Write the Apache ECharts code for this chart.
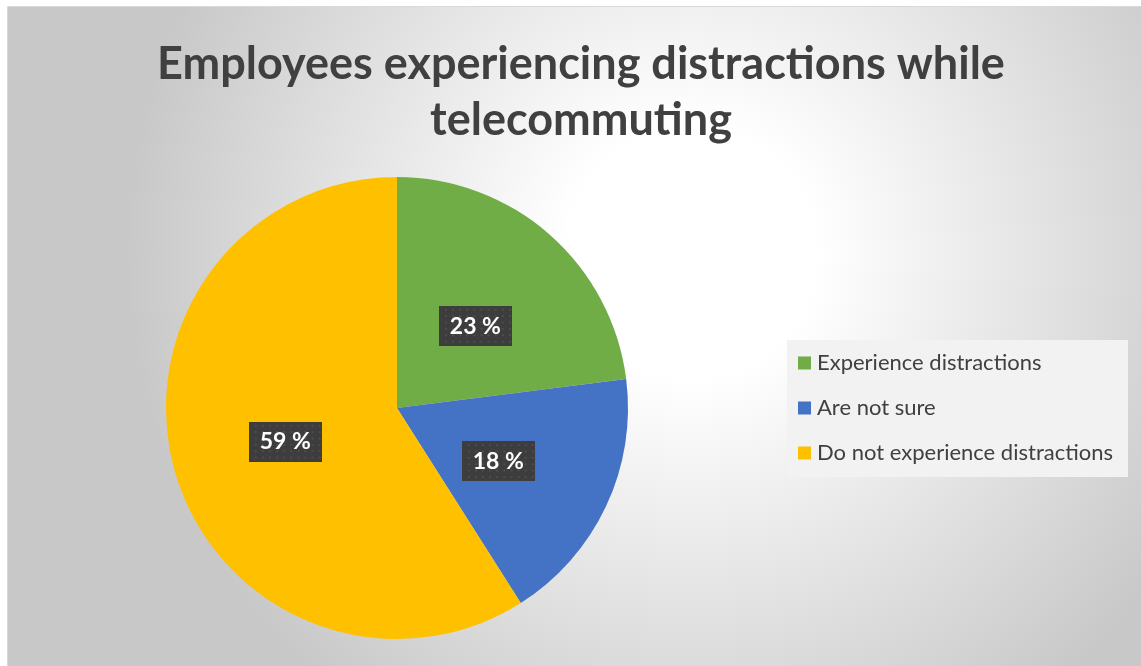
<!DOCTYPE html>
<html>
<head>
<meta charset="utf-8">
<style>
  html, body { margin: 0; padding: 0; background: #ffffff; }
  #chart { width: 1141px; height: 666px; }
</style>
<script src="https://cdn.jsdelivr.net/npm/echarts@6/dist/echarts.min.js"></script>
</head>
<body>
<div id="chart"></div>
<script>
// Survey answers and their shares (%)
const categories = ['Experience distractions', 'Are not sure', 'Do not experience distractions'];
const shares = [23, 18, 59];
const sliceColors = ['#70ad47', '#4472c4', '#ffc000'];
const titleText = 'Employees experiencing distractions while\ntelecommuting';

// Small nudges of the value labels inside their slices
const labelNudges = [[0, 7], [-6, 3], [2, 1]];

// Dark dotted tile used behind the value labels
function dottedTile(w, h) {
  const c = document.createElement('canvas');
  c.width = w; c.height = h;
  const g = c.getContext('2d');
  g.fillStyle = '#3d3d3d';
  g.fillRect(0, 0, w, h);
  g.fillStyle = '#4d4d4d';
  for (let y = 3; y < h; y += 7) {
    for (let x = 3 + ((y / 7) % 2 ? 3 : 0); x < w; x += 7) {
      g.fillRect(x, y, 2, 2);
    }
  }
  return c;
}
const tile = dottedTile(72, 44);

const chart = echarts.init(document.getElementById('chart'), null, { renderer: 'canvas' });

chart.setOption({
  animation: false,
  backgroundColor: '#ffffff',
  graphic: [
    {
      type: 'rect',
      z: -10,
      shape: { x: 7.5, y: 6.5, width: 1140, height: 666 },
      style: {
        stroke: '#d9d9d9',
        lineWidth: 1,
        fill: new echarts.graphic.RadialGradient(0.6, 0.37, 0.85, [
          { offset: 0, color: '#ffffff' },
          { offset: 0.22, color: '#ffffff' },
          { offset: 1, color: '#c8c8c8' }
        ])
      },
      silent: true
    },
    {
      type: 'rect',
      z: -5,
      shape: { x: 787, y: 340, width: 341, height: 137 },
      style: { fill: '#f2f2f2' },
      silent: true
    }
  ],
  title: {
    text: titleText,
    left: 576,
    textAlign: 'center',
    top: 31,
    textStyle: {
      fontFamily: 'Lato',
      fontWeight: 'bold',
      fontSize: 45,
      lineHeight: 56,
      color: '#404040'
    }
  },
  legend: {
    orient: 'vertical',
    left: 798,
    top: 352,
    itemWidth: 13,
    itemHeight: 13,
    itemGap: 23,
    icon: 'rect',
    padding: 0,
    data: categories,
    textStyle: {
      fontFamily: 'Lato',
      fontSize: 22,
      lineHeight: 22,
      color: '#404040',
      padding: [0, 0, 0, 1]
    }
  },
  series: [
    {
      type: 'pie',
      center: [397, 408],
      radius: 231,
      startAngle: 90,
      clockwise: true,
      silent: true,
      itemStyle: { borderWidth: 0 },
      label: {
        show: true,
        position: 'inside',
        formatter: '{c} %',
        fontFamily: 'Lato',
        fontWeight: 'bold',
        fontSize: 23,
        lineHeight: 24,
        color: '#ffffff',
        backgroundColor: { image: tile },
        padding: [8, 11, 8, 11],
        shadowColor: 'rgba(0,0,0,0.6)',
        shadowBlur: 8,
        shadowOffsetX: 4,
        shadowOffsetY: 5
      },
      labelLine: { show: false },
      data: categories.map((name, i) => ({
        name: name,
        value: shares[i],
        itemStyle: { color: sliceColors[i] },
        label: { offset: labelNudges[i] }
      }))
    }
  ]
});
</script>
</body>
</html>
